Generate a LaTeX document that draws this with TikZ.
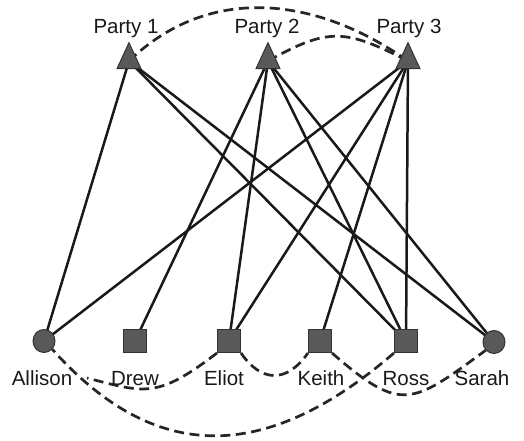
\documentclass[tikz,border=0pt]{standalone}
\usepackage{fontspec}
\setmainfont{Liberation Sans}
\usetikzlibrary{shapes.geometric,backgrounds}
\begin{document}
\begin{tikzpicture}[x=1pt,y=-1pt,
  nd/.style={draw=black!80, fill=black!65, line width=1pt, inner sep=0pt},
  sq/.style={nd, rectangle, minimum size=23pt},
  ci/.style={nd, ellipse, minimum width=22pt, minimum height=23pt},
  tri/.style={nd, isosceles triangle, isosceles triangle apex angle=50, shape border rotate=90, isosceles triangle stretches, minimum width=24pt, minimum height=26pt},
  lab/.style={font=\fontsize{20.5}{24}\selectfont, text=black!90, anchor=base, inner sep=0pt},
  tie/.style={line width=2.5pt, black!90},
  dsh/.style={line width=2.7pt, black!85, dash pattern=on 10pt off 5.5pt}
]
\useasboundingbox (0,0) rectangle (524,440);

% parties
\node[tri] (p1) at (129,61) {};
\node[tri] (p2) at (268,61) {};
\node[tri] (p3) at (408,61) {};
\node[lab] (lp1) at (126,33) {Party 1};
\node[lab] (lp2) at (267,33) {Party 2};
\node[lab] (lp3) at (409,33) {Party 3};

% people
\node[ci] (allison) at (44,341) {};
\node[sq] (drew) at (135,341) {};
\node[sq] (eliot) at (229,341) {};
\node[sq] (keith) at (320,341) {};
\node[sq] (ross) at (406,341) {};
\node[ci] (sarah) at (494,342) {};
\node[lab] (lallison) at (42,385) {Allison};
\node[lab] (ldrew) at (135,385) {Drew};
\node[lab] (leliot) at (224,385) {Eliot};
\node[lab] (lkeith) at (321,385) {Keith};
\node[lab] (lross) at (406,385) {Ross};
\node[lab] (lsarah) at (482,385) {Sarah};
\coordinate (aend) at (87,378);

\begin{scope}[on background layer]
  \draw[tie] (p1.center) -- (allison.center);
  \draw[tie] (p1.center) -- (ross.center);
  \draw[tie] (p1.center) -- (sarah.center);
  \draw[tie] (p2.center) -- (drew.center);
  \draw[tie] (p2.center) -- (eliot.center);
  \draw[tie] (p2.center) -- (ross.center);
  \draw[tie] (p2.center) -- (sarah.center);
  \draw[tie] (p3.center) -- (allison.center);
  \draw[tie] (p3.center) -- (eliot.center);
  \draw[tie] (p3.center) -- (keith.center);
  \draw[tie] (p3.center) -- (ross.center);

  \draw[dsh] (p1.center) .. controls (209,-16) and (316,-4) .. (p3.center);
  \draw[dsh] (p2.center) .. controls (329,27) and (345,29) .. (p3.center);
  \draw[dsh] (eliot.south west) .. controls (157,399) and (145,393) .. (aend);
  \draw[dsh] (eliot.south east) .. controls (261,382) and (286,384) .. (keith.south west);
  \draw[dsh] (keith.south east) .. controls (402,414) and (412,404) .. (sarah.-135);
  \draw[dsh] (ross.south west) .. controls (272,458) and (160,470) .. (allison.-45);
\end{scope}
\end{tikzpicture}
\end{document}
